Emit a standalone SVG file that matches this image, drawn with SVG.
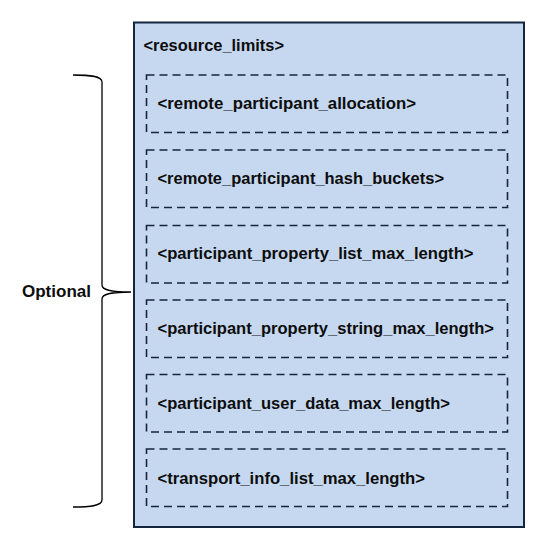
<svg xmlns="http://www.w3.org/2000/svg" width="547" height="550" viewBox="0 0 547 550">
  <style>
    .outer { fill: #c6d8f0; stroke: #15243f; stroke-width: 2; }
    .opt { fill: none; stroke: #15243f; stroke-width: 1.6; stroke-dasharray: 8 5; }
    .lbl { font-family: "Liberation Sans", Arial, sans-serif; font-weight: bold; font-size: 17px; fill: #0d0d0d; }
    .brace { fill: none; stroke: #000; stroke-width: 1.3; }
  </style>
  <rect width="547" height="550" fill="#ffffff"/>
  <g id="resource_limits">
    <rect class="outer" x="134" y="22.5" width="390" height="504.5"/>
    <text class="lbl" x="143.5" y="50.5" textLength="140.5" lengthAdjust="spacingAndGlyphs">&lt;resource_limits&gt;</text>
  </g>
  <g id="remote_participant_allocation">
    <rect class="opt" x="146.5" y="75" width="361" height="57.5"/>
    <text class="lbl" x="157.5" y="108.5" textLength="258.5" lengthAdjust="spacingAndGlyphs">&lt;remote_participant_allocation&gt;</text>
  </g>
  <g id="remote_participant_hash_buckets">
    <rect class="opt" x="146.5" y="150" width="361" height="57.5"/>
    <text class="lbl" x="157.5" y="184" textLength="286.5" lengthAdjust="spacingAndGlyphs">&lt;remote_participant_hash_buckets&gt;</text>
  </g>
  <g id="participant_property_list_max_length">
    <rect class="opt" x="146.5" y="225.5" width="361" height="57.5"/>
    <text class="lbl" x="157.5" y="259" textLength="316" lengthAdjust="spacingAndGlyphs">&lt;participant_property_list_max_length&gt;</text>
  </g>
  <g id="participant_property_string_max_length">
    <rect class="opt" x="146.5" y="300" width="361" height="57.5"/>
    <text class="lbl" x="157.5" y="333.5" textLength="336.5" lengthAdjust="spacingAndGlyphs">&lt;participant_property_string_max_length&gt;</text>
  </g>
  <g id="participant_user_data_max_length">
    <rect class="opt" x="146.5" y="374.5" width="361" height="57.5"/>
    <text class="lbl" x="157.5" y="408.5" textLength="292.5" lengthAdjust="spacingAndGlyphs">&lt;participant_user_data_max_length&gt;</text>
  </g>
  <g id="transport_info_list_max_length">
    <rect class="opt" x="146.5" y="449" width="361" height="57.5"/>
    <text class="lbl" x="157.5" y="483.5" textLength="267.5" lengthAdjust="spacingAndGlyphs">&lt;transport_info_list_max_length&gt;</text>
  </g>
  <g id="optional-brace">
    <path class="brace" d="M73,75 C90,75 102,76 102,82 L102,285 C102,290 110,292 131,292 C110,292 102,294 102,299 L102,500 C102,506 90,507 73,507"/>
    <text class="lbl" x="22" y="297" textLength="69" lengthAdjust="spacingAndGlyphs">Optional</text>
  </g>
  <g id="connectors"/>
</svg>
